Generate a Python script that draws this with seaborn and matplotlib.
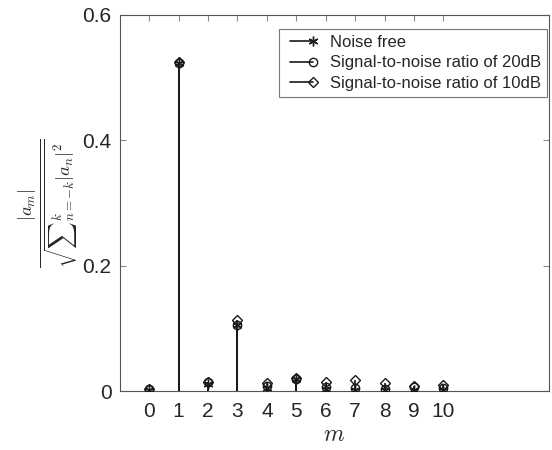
import numpy as np
import seaborn as sns
import matplotlib.pyplot as plt
from matplotlib.lines import Line2D

# data
m = [0, 1, 2, 3, 4, 5, 6, 7, 8, 9, 10]
noise_free = [0.002, 0.523, 0.012, 0.105, 0.005, 0.020, 0.003, 0.002, 0.002, 0.001, 0.001]
snr_20db = [0.003, 0.523, 0.015, 0.105, 0.008, 0.020, 0.006, 0.005, 0.004, 0.006, 0.005]
snr_10db = [0.003, 0.525, 0.014, 0.114, 0.013, 0.021, 0.014, 0.017, 0.013, 0.008, 0.009]
labels = ['Noise free', 'Signal-to-noise ratio of 20dB', 'Signal-to-noise ratio of 10dB']

sns.set_theme(style='white')
plt.rcParams['font.family'] = ['Liberation Sans', 'DejaVu Sans']
plt.rcParams['mathtext.fontset'] = 'cm'

fig = plt.figure(figsize=(5.52, 4.5), dpi=100)
ax = fig.add_axes([0.217, 0.131, 0.778, 0.836])

asterisk = (6, 2, 0)
styles = [
    (noise_free, dict(marker=asterisk, markersize=7, markeredgewidth=1.0)),
    (snr_20db, dict(marker='o', markersize=6, markerfacecolor='none', markeredgewidth=1.0)),
    (snr_10db, dict(marker='D', markersize=5.5, markerfacecolor='none', markeredgewidth=1.0)),
]

handles = []
for (vals, mk), lab in zip(styles, labels):
    ax.vlines(m, 0, vals, color='k', linewidth=1.2, zorder=2)
    ax.plot(m, vals, linestyle='none', color='k', zorder=3, **mk)
    handles.append(Line2D([0, 1], [0, 0], color='k', linewidth=1.2, **mk))

ax.set_xlim(-1, 13.6)
ax.set_ylim(0, 0.6)
ax.set_xticks(m)
ax.set_yticks([0, 0.2, 0.4, 0.6])
ax.set_yticklabels(['0', '0.2', '0.4', '0.6'])

for s in ax.spines.values():
    s.set_visible(True)
    s.set_color('#555555')
    s.set_linewidth(0.8)
ax.tick_params(direction='in', length=4, width=0.8, color='#888888',
               labelsize=15, labelcolor='#262626', top=True, right=True,
               bottom=True, left=True, pad=6)
ax.tick_params(axis='x', pad=8)

ax.set_xlabel('$m$', fontsize=17, labelpad=2)
ax.set_ylabel(r'$\frac{|a_m|}{\sqrt{\sum{}_{n=-k}^{k}|a_n|^2}}$', fontsize=19, labelpad=1)

leg = ax.legend(handles, labels, loc='upper right', numpoints=2, fontsize=12,
                frameon=True, fancybox=False, edgecolor='#555555', handlelength=2.0,
                handletextpad=0.7, borderpad=0.35, labelspacing=0.35,
                borderaxespad=0, bbox_to_anchor=(0.995, 0.963))
leg.get_frame().set_linewidth(0.8)
for ln in leg.get_lines():
    ln.set_markevery([1])

fig.savefig('out.png', dpi=100)
